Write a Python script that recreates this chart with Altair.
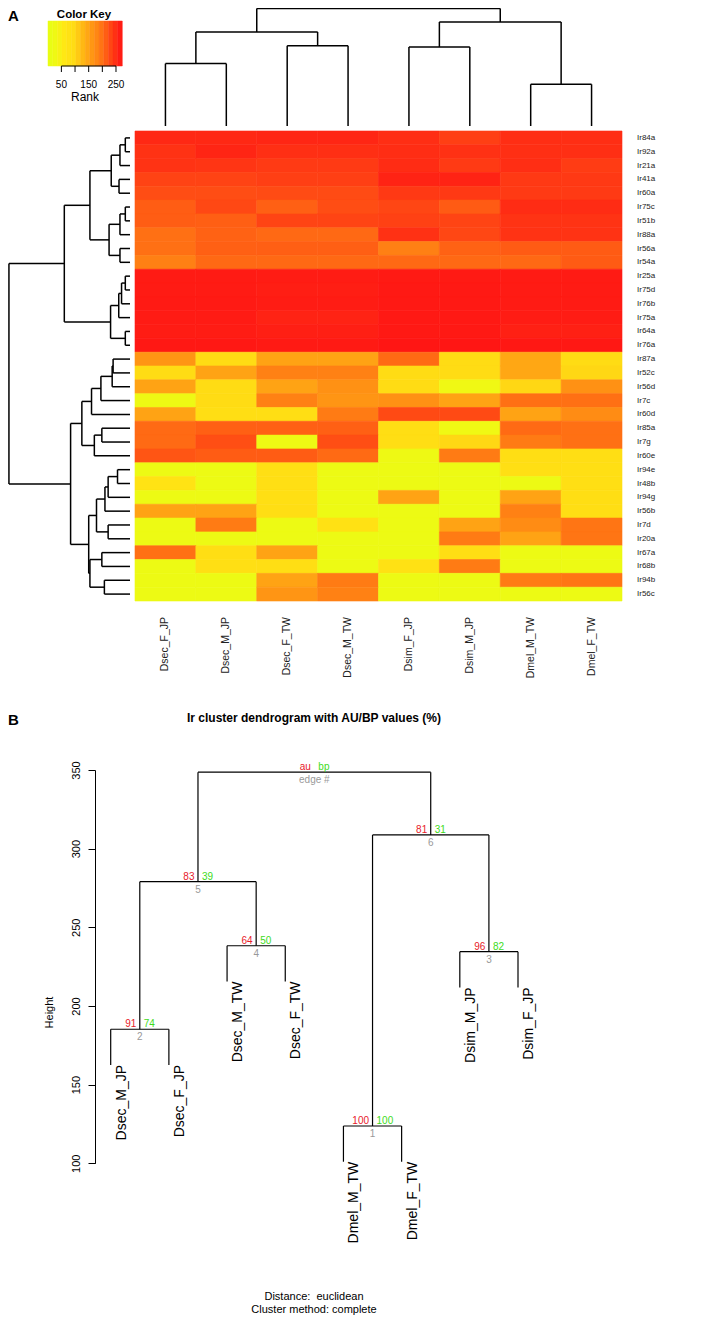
import altair as alt
import pandas as pd

W, H = 686, 1309
FONT = "Liberation Sans, Arial, Helvetica, sans-serif"

# ---------------- data ----------------
columns = ["Dsec_F_JP", "Dsec_M_JP", "Dsec_F_TW", "Dsec_M_TW",
           "Dsim_F_JP", "Dsim_M_JP", "Dmel_M_TW", "Dmel_F_TW"]

rows = ["Ir84a", "Ir92a", "Ir21a", "Ir41a", "Ir60a", "Ir75c", "Ir51b", "Ir88a",
        "Ir56a", "Ir54a", "Ir25a", "Ir75d", "Ir76b", "Ir75a", "Ir64a", "Ir76a",
        "Ir87a", "Ir52c", "Ir56d", "Ir7c", "Ir60d", "Ir85a", "Ir7g", "Ir60e",
        "Ir94e", "Ir48b", "Ir94g", "Ir56b", "Ir7d", "Ir20a", "Ir67a", "Ir68b",
        "Ir94b", "Ir56c"]

rank_values = [
    [255, 255, 257, 257, 250, 236, 250, 250],
    [247, 258, 249, 249, 251, 248, 249, 249],
    [246, 244, 240, 240, 252, 240, 250, 238],
    [233, 233, 236, 236, 259, 259, 241, 241],
    [226, 226, 227, 227, 241, 241, 240, 240],
    [214, 229, 212, 226, 231, 216, 252, 252],
    [214, 213, 232, 232, 234, 232, 246, 246],
    [200, 211, 206, 206, 248, 230, 246, 246],
    [200, 212, 213, 213, 186, 211, 216, 216],
    [186, 206, 206, 206, 206, 206, 206, 216],
    [266, 266, 265, 265, 267, 267, 266, 266],
    [266, 266, 264, 264, 268, 268, 266, 266],
    [267, 267, 265, 265, 268, 268, 266, 266],
    [266, 266, 259, 259, 268, 268, 265, 265],
    [265, 265, 263, 263, 268, 268, 262, 262],
    [269, 269, 267, 267, 270, 270, 269, 269],
    [165, 95, 150, 150, 205, 95, 145, 95],
    [95, 150, 185, 185, 95, 95, 145, 100],
    [150, 95, 150, 170, 95, 30, 100, 170],
    [25, 95, 185, 165, 170, 150, 200, 200],
    [150, 90, 90, 190, 228, 228, 150, 175],
    [205, 212, 212, 212, 90, 30, 205, 200],
    [205, 225, 25, 225, 90, 100, 190, 200],
    [220, 215, 215, 205, 25, 190, 90, 90],
    [20, 20, 85, 20, 20, 20, 85, 85],
    [75, 20, 85, 20, 20, 20, 20, 85],
    [20, 20, 85, 20, 150, 20, 150, 90],
    [150, 150, 90, 20, 20, 20, 185, 90],
    [20, 190, 20, 80, 20, 150, 175, 195],
    [20, 20, 20, 20, 20, 190, 150, 195],
    [200, 90, 150, 20, 20, 90, 20, 20],
    [20, 85, 90, 20, 80, 190, 20, 20],
    [20, 20, 150, 190, 20, 20, 190, 195],
    [20, 20, 165, 185, 20, 20, 20, 20],
]

rank_min, rank_max = 1, 272
key_breaks = [1, 18, 35, 52, 69, 86, 103, 120, 137, 154, 171, 188, 205, 222,
              239, 256, 273]
key_ticks = [50, 100, 150, 200, 250]
key_labels = [50, 150, 250]
color_stops = [1, 30, 60, 95, 140, 175, 205, 235, 272]
color_hex = ["#E6FF14", "#F0F814", "#FFE814", "#FFDC14", "#FFAC14",
             "#FF8C14", "#FF6A14", "#FF4014", "#FF1414"]

# column clustering heights (euclidean, complete)
h_sec_jp, h_sec_tw, h_sec = 185.2, 238.3, 279.0
h_mel, h_sim, h_melsim, h_root = 123.7, 234.5, 308.7, 348.6

# heatmap column dendrogram (leaf order = columns)
col_tree = (((0, 1, h_sec_jp), (2, 3, h_sec_tw), h_sec),
            ((4, 5, h_sim), (6, 7, h_mel), h_melsim), h_root)

# heatmap row dendrogram (leaf order = rows)
row_tree = (
    (
        ((((0, 1, 5.0), 2, 10.7), (3, 4, 11.7), 20.0),
         (((5, 6, 5.0), 7, 10.7), (8, 9, 10.7), 22.3), 42.7),
        ((((10, 11, 5.0), 12, 9.0), 13, 12.0), (14, 15, 5.0), 20.7),
        70.0),
    (
        (((((16, 17, 18.0), 18, 19.0), 19, 31.0), 20, 41.0),
         ((21, 22, 30.0), 23, 38.0), 51.3),
        (((((24, 25, 13.3), 26, 23.3), 27, 26.7), (28, 29, 23.3), 35.7),
         ((30, 31, 30.0), (32, 33, 27.3), 42.7), 44.0),
        63.3),
    129.0)

# panel B: pvclust dendrogram
leaves_B = ["Dsec_M_JP", "Dsec_F_JP", "Dsec_M_TW", "Dsec_F_TW",
            "Dmel_M_TW", "Dmel_F_TW", "Dsim_M_JP", "Dsim_F_JP"]
tree_B = (((0, 1, h_sec_jp, 2), (2, 3, h_sec_tw, 4), h_sec, 5),
          ((4, 5, h_mel, 1), (6, 7, h_sim, 3), h_melsim, 6), h_root, 7)
hang_B = 22.7
edges = [1, 2, 3, 4, 5, 6]
au_values = [100, 91, 96, 64, 83, 81]
bp_values = [100, 74, 82, 50, 39, 31]
height_ticks = [100, 150, 200, 250, 300, 350]


# ---------------- tree geometry ----------------
def walk(node, segs, nodes, leaves, hang=None):
    if isinstance(node, int):
        return float(node), None
    l, r, h = node[0], node[1], node[2]
    pl, hl = walk(l, segs, nodes, leaves, hang)
    pr, hr = walk(r, segs, nodes, leaves, hang)
    base = 0.0 if hang is None else h - hang
    if hl is None:
        hl = base
        leaves.append(dict(pos=pl, hend=hl))
    if hr is None:
        hr = base
        leaves.append(dict(pos=pr, hend=hr))
    segs.append(dict(p1=pl, h1=hl, p2=pl, h2=h))
    segs.append(dict(p1=pr, h1=hr, p2=pr, h2=h))
    segs.append(dict(p1=pl, h1=h, p2=pr, h2=h))
    pos = (pl + pr) / 2
    nodes.append(dict(pos=pos, h=h, edge=node[3] if len(node) > 3 else 0))
    return pos, h


def tree_frames(tree, hang=None):
    segs, nodes, leaves = [], [], []
    walk(tree, segs, nodes, leaves, hang)
    return pd.DataFrame(segs), pd.DataFrame(nodes), pd.DataFrame(leaves)


col_segs, _, _ = tree_frames(col_tree)
row_segs, _, _ = tree_frames(row_tree)
b_segs, b_nodes, b_leaves = tree_frames(tree_B, hang_B)
b_leaves["name"] = [leaves_B[int(p)] for p in b_leaves["pos"]]
b_nodes = b_nodes.sort_values("edge").reset_index(drop=True)
lab = {e: (a, b) for e, a, b in zip(edges, au_values, bp_values)}
b_nodes["au"] = [str(lab[e][0]) if e in lab else "au" for e in b_nodes["edge"]]
b_nodes["bp"] = [str(lab[e][1]) if e in lab else "bp" for e in b_nodes["edge"]]
b_nodes["ed"] = [str(e) if e in lab else "edge #" for e in b_nodes["edge"]]

heat = pd.DataFrame([
    dict(row=r, col=c, rank=rank_values[i][j])
    for i, r in enumerate(rows) for j, c in enumerate(columns)
])
key_df = pd.DataFrame(dict(lo=key_breaks[:-1], hi=key_breaks[1:],
                           v=[(a + b) / 2 for a, b in zip(key_breaks[:-1], key_breaks[1:])]))

# ---------------- scales ----------------
color_scale = alt.Scale(domain=color_stops, range=color_hex, interpolate="rgb")
HX = [127, 614]   # heatmap horizontal extent (plot px)
HY = [123, 593]   # heatmap vertical extent


def hx():
    return alt.X("col:N", scale=alt.Scale(domain=columns, range=HX,
                                          paddingInner=0, paddingOuter=0), axis=None)


def hy():
    return alt.Y("row:N", scale=alt.Scale(domain=rows, range=HY,
                                          paddingInner=0, paddingOuter=0), axis=None)


# heatmap
heat_layer = alt.Chart(heat).mark_rect(strokeWidth=0.6).encode(
    x=hx(), y=hy(),
    color=alt.Color("rank:Q", scale=color_scale, legend=None),
    stroke=alt.Stroke("rank:Q", scale=color_scale, legend=None))

row_lab = alt.Chart(pd.DataFrame(dict(row=rows))).mark_text(
    align="left", baseline="middle", font=FONT, fontSize=8, color="#222"
).encode(y=hy(), x=alt.value(629), text="row:N")

col_lab = alt.Chart(pd.DataFrame(dict(col=columns))).mark_text(
    align="right", baseline="middle", angle=270, font=FONT, fontSize=10.5,
    color="#222", dx=0
).encode(x=hx(), y=alt.value(609), text="col:N")

# column dendrogram (top)
cs_x = alt.Scale(domain=[-0.5, 7.5], range=HX)
cs_y = alt.Scale(domain=[0, 350], range=[118, 0])
col_dendro = alt.Chart(col_segs).mark_rule(color="black", strokeWidth=1.5).encode(
    x=alt.X("p1:Q", scale=cs_x, axis=None), x2="p2:Q",
    y=alt.Y("h1:Q", scale=cs_y, axis=None), y2="h2:Q")

# row dendrogram (left)
rs_y = alt.Scale(domain=[-0.5, 33.5], range=HY)
rs_x = alt.Scale(domain=[0, 130], range=[122, 0])
row_dendro = alt.Chart(row_segs).mark_rule(color="black", strokeWidth=1.5).encode(
    y=alt.Y("p1:Q", scale=rs_y, axis=None), y2="p2:Q",
    x=alt.X("h1:Q", scale=rs_x, axis=None), x2="h2:Q")

# color key
ks_x = alt.Scale(domain=[rank_min, rank_max], range=[40, 114])
key_rect = alt.Chart(key_df).mark_rect(strokeWidth=0.5).encode(
    x=alt.X("lo:Q", scale=ks_x, axis=None), x2="hi:Q",
    y=alt.value(13), y2=alt.value(58),
    color=alt.Color("v:Q", scale=color_scale, legend=None),
    stroke=alt.Stroke("v:Q", scale=color_scale, legend=None))
key_axis = alt.Chart(pd.DataFrame(dict(a=[key_ticks[0]], b=[key_ticks[-1]]))).mark_rule(
    color="black", strokeWidth=1).encode(
    x=alt.X("a:Q", scale=ks_x, axis=None), x2="b:Q", y=alt.value(58))
key_tick = alt.Chart(pd.DataFrame(dict(t=key_ticks))).mark_rule(
    color="black", strokeWidth=1).encode(
    x=alt.X("t:Q", scale=ks_x, axis=None), y=alt.value(58), y2=alt.value(64))
key_text = alt.Chart(pd.DataFrame(dict(t=key_labels))).mark_text(
    font=FONT, fontSize=10, baseline="middle", color="black").encode(
    x=alt.X("t:Q", scale=ks_x, axis=None), y=alt.value(77), text="t:Q")


def label(txt, x, y, size, weight="normal", align="center", angle=0, color="black"):
    kw = dict(font=FONT, fontSize=size, fontWeight=weight, align=align,
              baseline="middle", color=color)
    if angle:
        kw["angle"] = angle
    return alt.Chart(pd.DataFrame(dict(t=[txt]))).mark_text(**kw).encode(
        x=alt.value(x), y=alt.value(y), text="t:N")


texts = [
    label("Color Key", 76, 7, 11.5, "bold"),
    label("Rank", 77, 89, 12),
    label("A", 0, 8, 15, "bold", "left"),
    label("B", 0, 712, 15, "bold", "left"),
    label("Ir cluster dendrogram with AU/BP values (%)", 306, 710, 12, "bold"),
    label("Distance:\u00a0 euclidean", 306, 1289, 11),
    label("Cluster method: complete", 306, 1302, 11),
]

# panel B dendrogram
bs_x = alt.Scale(domain=[0, 7], range=[102.7, 510])
bs_y = alt.Scale(domain=[100, 350], range=[1155.3, 762])
b_dendro = alt.Chart(b_segs).mark_rule(color="black", strokeWidth=1.2).encode(
    x=alt.X("p1:Q", scale=bs_x, axis=None), x2="p2:Q",
    y=alt.Y("h1:Q", scale=bs_y,
            axis=alt.Axis(orient="left", offset=-87, values=height_ticks,
                          tickSize=7, labelAngle=270, labelAlign="center",
                          labelBaseline="bottom", labelPadding=7,
                          labelFont=FONT, labelFontSize=11, labelColor="black",
                          domainColor="black", tickColor="black", grid=False,
                          title="Height", titleFont=FONT, titleFontSize=11,
                          titleFontWeight="normal", titleColor="black",
                          titleAngle=270, titleAlign="center",
                          titleBaseline="middle", titleX=-46, titleY=1004)),
    y2="h2:Q")

b_leaf_text = alt.Chart(b_leaves).mark_text(
    align="right", baseline="middle", angle=270, font=FONT, fontSize=14,
    color="black", dy=11
).encode(x=alt.X("pos:Q", scale=bs_x, axis=None),
         y=alt.Y("hend:Q", scale=bs_y, axis=None), text="name:N")

b_au = alt.Chart(b_nodes).mark_text(
    align="right", baseline="alphabetic", font=FONT, fontSize=10,
    color="#E8202A", dx=-3.5, dy=-2
).encode(x=alt.X("pos:Q", scale=bs_x, axis=None),
         y=alt.Y("h:Q", scale=bs_y, axis=None), text="au:N")
b_bp = alt.Chart(b_nodes).mark_text(
    align="left", baseline="alphabetic", font=FONT, fontSize=10,
    color="#3EDB1A", dx=4, dy=-2
).encode(x=alt.X("pos:Q", scale=bs_x, axis=None),
         y=alt.Y("h:Q", scale=bs_y, axis=None), text="bp:N")
b_ed = alt.Chart(b_nodes).mark_text(
    align="center", baseline="top", font=FONT, fontSize=10,
    color="#999999", dy=3
).encode(x=alt.X("pos:Q", scale=bs_x, axis=None),
         y=alt.Y("h:Q", scale=bs_y, axis=None), text="ed:N")

chart = alt.layer(
    heat_layer, row_lab, col_lab, col_dendro, row_dendro,
    key_rect, key_axis, key_tick, key_text,
    b_dendro, b_leaf_text, b_au, b_bp, b_ed, *texts
).resolve_scale(
    x="independent", y="independent", color="independent", stroke="independent"
).properties(
    width=W, height=H, padding=0, autosize="none", background="white"
).configure_view(stroke=None)

chart.save("out.html", embed_options={"renderer": "svg", "actions": False})
